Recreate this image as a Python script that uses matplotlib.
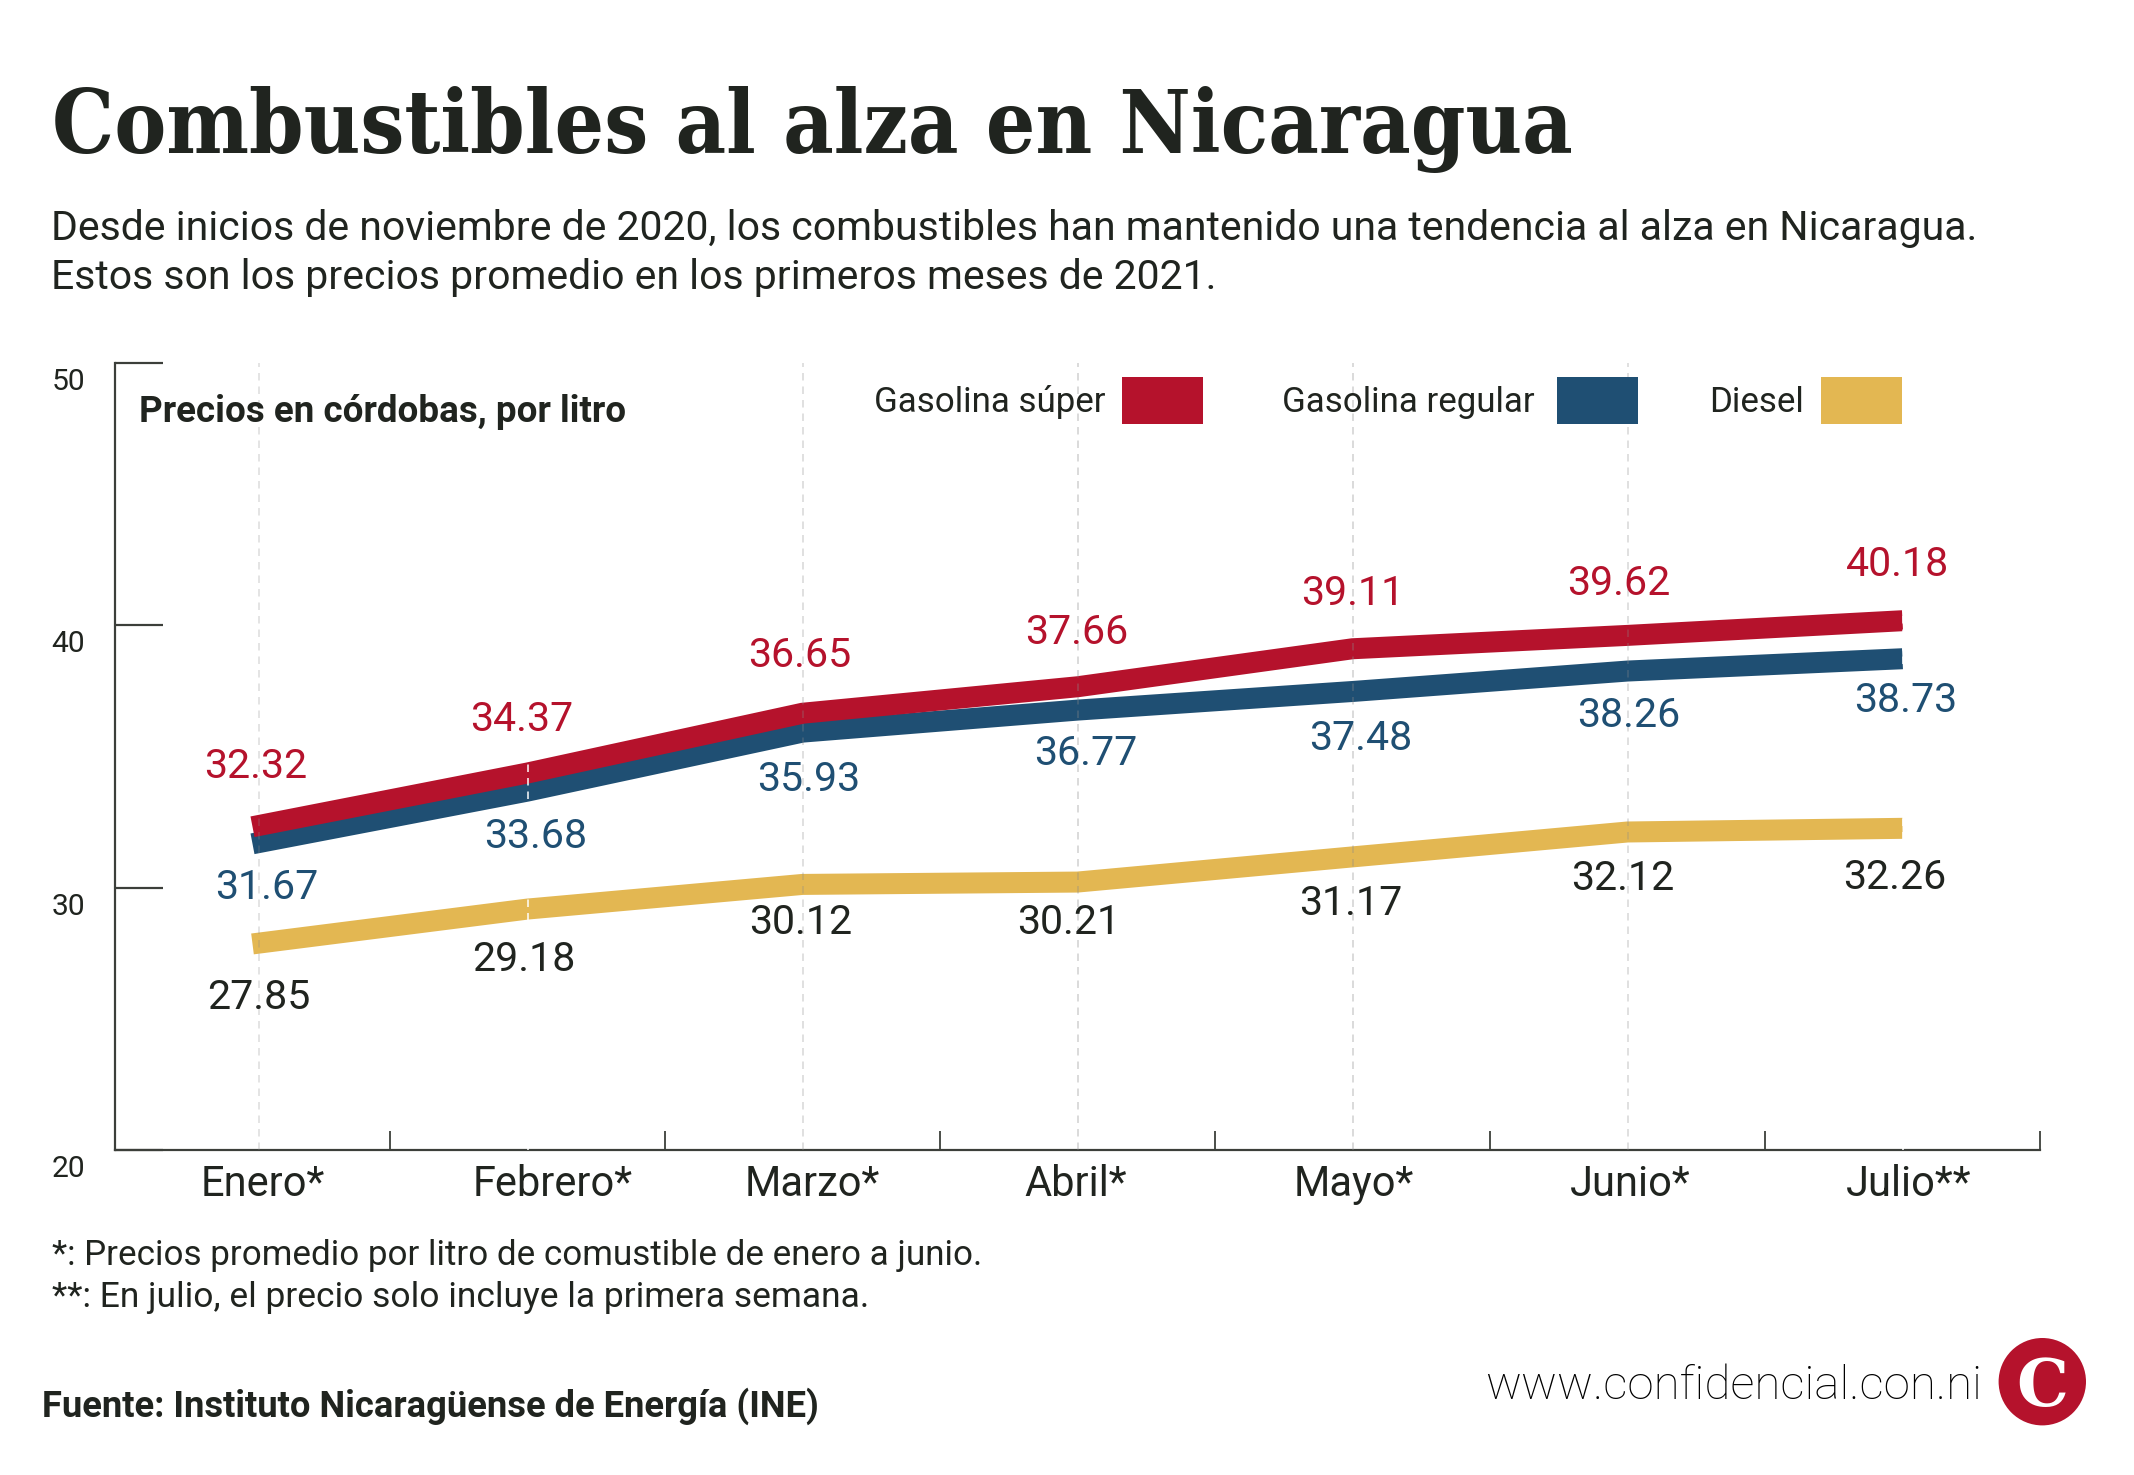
#!/usr/bin/env python3
"""Combustibles al alza en Nicaragua: precios promedio por litro, 2021."""
import matplotlib
matplotlib.use('Agg')
import matplotlib.pyplot as plt
from matplotlib.patches import Circle, Rectangle
from matplotlib.transforms import ScaledTranslation


W, H = 2134, 1475
DPI = 200

months = ['Enero*', 'Febrero*', 'Marzo*', 'Abril*', 'Mayo*', 'Junio*', 'Julio**']
super_vals = [32.32, 34.37, 36.65, 37.66, 39.11, 39.62, 40.18]
regular_vals = [31.67, 33.68, 35.93, 36.77, 37.48, 38.26, 38.73]
diesel_vals = [27.85, 29.18, 30.12, 30.21, 31.17, 32.12, 32.26]
y_ticks = [20, 30, 40, 50]

RED = '#B5122C'
BLUE = '#1F4F73'
YELLOW = '#E3B752'
DARK = '#20241F'
AXIS = '#3C3F3A'
SANS = 'Roboto'

# label offsets from each point, in pixels (dx, dy up)
super_off = [(3.5, 60.5), (-6, 53.5), (-3, 57.5), (-0.5, 54.5), (0.5, 55), (-9, 52), (-4.5, 56.5)]
regular_off = [(14, -43.5), (8, -45.5), (6, -47.5), (8.5, -43.5), (8.5, -47), (1, -44.5), (3.5, -41.5)]
diesel_off = [(6, -53.5), (-4, -50.5), (-2, -38), (-8.5, -40.5), (-2, -46.5), (-4.5, -47), (-7.5, -49)]
month_dx = [10.5, 25.5, 10, -1.5, 1.5, 2.5, 6.5]


def pt(px):
    return px * 72.0 / DPI


def put(x, y, s, size, **kw):
    # x, y are image pixels, y counted from the top
    kw.setdefault('color', DARK)
    kw.setdefault('family', SANS)
    kw.setdefault('va', 'baseline')
    return fig.text(x / W, 1 - y / H, s, fontsize=size, **kw)


fig = plt.figure(figsize=(W / DPI, H / DPI), dpi=DPI, facecolor='white')
ax = fig.add_axes([115 / W, 1 - 1149.7 / H, 1925 / W, 786.4 / H])
ax.set_xlim(-0.5, 6.5)
ax.set_ylim(20, 50)
ax.patch.set_alpha(0)

for side in ['top', 'right']:
    ax.spines[side].set_visible(False)
for side in ['left', 'bottom']:
    ax.spines[side].set_color(AXIS)
    ax.spines[side].set_linewidth(pt(2.2))

xs = list(range(len(months)))

# dashed month guides; Enero sits a little off centre, Febrero and Julio are white
guide_x = [0.025, 1, 2, 3, 4, 5, 6]
guide_c = ['#8a8a8a', 'white', '#8a8a8a', '#8a8a8a', '#8a8a8a', '#8a8a8a', 'white']
guide_a = [0.3, 1, 0.35, 0.4, 0.4, 0.35, 1]
for gx, gc, ga in zip(guide_x, guide_c, guide_a):
    ax.plot([gx, gx], [20, 50], color=gc, alpha=ga, lw=pt(1.5), dashes=(5, 4), zorder=4)

ax.plot(xs, diesel_vals, color=YELLOW, lw=pt(21), solid_capstyle='butt', solid_joinstyle='miter', zorder=2)
ax.plot(xs, regular_vals, color=BLUE, lw=pt(21), solid_capstyle='butt', solid_joinstyle='miter', zorder=2)
ax.plot(xs, super_vals, color=RED, lw=pt(21), solid_capstyle='butt', solid_joinstyle='miter', zorder=3)

for vals, offs, col in [(super_vals, super_off, RED), (regular_vals, regular_off, BLUE), (diesel_vals, diesel_off, DARK)]:
    for x, v, (dx, dy) in zip(xs, vals, offs):
        ax.annotate(f'{v:.2f}', xy=(x, v), xytext=(dx, dy), textcoords='offset pixels',
                    ha='center', va='center', color=col, fontsize=14.8, family=SANS, zorder=5)

# y axis
ax.set_yticks(y_ticks)
ax.tick_params(axis='y', direction='in', length=pt(48), width=pt(2.2), color=AXIS,
               pad=pt(30), labelsize=10.8, labelcolor=DARK)
for lab in ax.get_yticklabels():
    lab.set_family(SANS)
    lab.set_transform(lab.get_transform() + ScaledTranslation(0, -16 / DPI, fig.dpi_scale_trans))

# x axis: ticks between the months, labels on hidden minor ticks
ax.set_xticks([i - 0.5 for i in range(len(months) + 1)])
ax.set_xticklabels([])
ax.tick_params(axis='x', which='major', direction='in', length=pt(19.5), width=pt(1.8), color=AXIS)
ax.set_xticks(xs, minor=True)
ax.set_xticklabels(months, minor=True)
ax.tick_params(axis='x', which='minor', length=0, pad=pt(46), labelsize=15.0, labelcolor=DARK)
for lab, dx in zip(ax.get_xticklabels(minor=True), month_dx):
    lab.set_family(SANS)
    lab.set_va('baseline')
    lab.set_transform(lab.get_transform() + ScaledTranslation(dx / DPI, 0, fig.dpi_scale_trans))

# titles
put(52, 152.7, 'Combustibles al alza en Nicaragua', 31.3, family='DejaVu Serif', fontweight='bold', fontstretch='condensed')
put(51, 240, 'Desde inicios de noviembre de 2020, los combustibles han mantenido una tendencia al alza en Nicaragua.', 14.78)
put(51, 289.3, 'Estos son los precios promedio en los primeros meses de 2021.', 14.78)

put(139, 421.7, 'Precios en córdobas, por litro', 13.25, fontweight='bold')

# legend
legend_items = [('Gasolina súper', RED, 1106, 1122), ('Gasolina regular', BLUE, 1535, 1557), ('Diesel', YELLOW, 1803.5, 1821)]
for name, col, tx, sx in legend_items:
    put(tx, 411.7, name, 12.55, ha='right')
    fig.add_artist(Rectangle((sx / W, 1 - 424.3 / H), 81 / W, 47 / H, transform=fig.transFigure,
                             facecolor=col, edgecolor='none'))

# notes
put(51.5, 1265, '*: Precios promedio por litro de comustible de enero a junio.', 12.6)
put(51.5, 1306.7, '**: En julio, el precio solo incluye la primera semana.', 12.75)
put(42, 1417, 'Fuente: Instituto Nicaragüense de Energía (INE)', 13.1, fontweight='bold')

# site and logo
put(1982, 1399, 'www.confidencial.con.ni', 17.1, ha='right', fontweight='light', color='#000000')
fig.add_artist(Circle((2042.3 / DPI, (H - 1381.7) / DPI), 43.7 / DPI, transform=fig.dpi_scale_trans,
                      facecolor=RED, edgecolor='none'))
put(2042.3, 1406, 'C', 23.5, ha='center', color='white', family='DejaVu Serif', fontweight='bold')

fig.savefig('out.png', dpi=DPI, facecolor='white')
